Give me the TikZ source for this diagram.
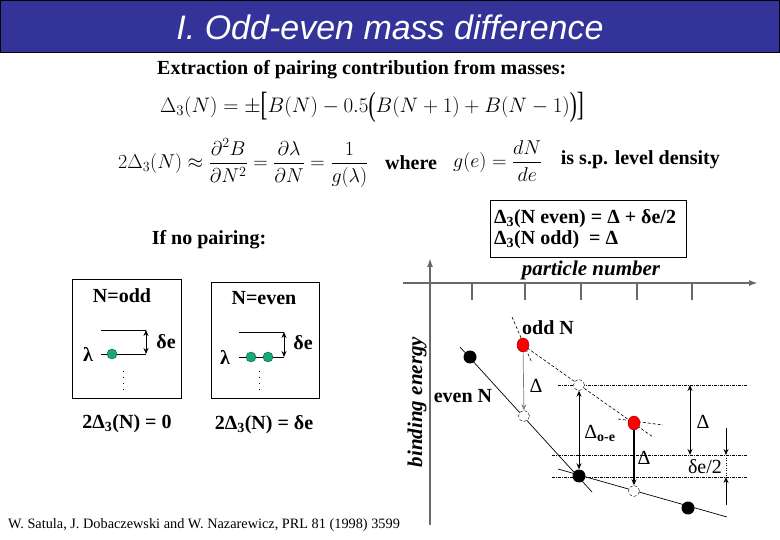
\documentclass[tikz,border=0pt]{standalone}
\usepackage{fix-cm}
\usepackage{amsmath}
\usepackage{graphicx}
\usepackage{fontspec}
\setmainfont{Liberation Serif}
\newfontfamily\headfont{Liberation Sans}
\usetikzlibrary{arrows.meta,shapes.geometric}
\definecolor{barblue}{RGB}{51,51,153}
\definecolor{dotgreen}{RGB}{20,170,120}
\definecolor{axisgray}{RGB}{105,105,105}
\newcommand{\tallbr}[1]{\hbox{\raisebox{-0.14em}{\scalebox{1}[1.6]{#1}}}}
\tikzset{
  bold/.style={font=\bfseries\fontsize{20}{22}\selectfont},
  plain/.style={font=\fontsize{20}{22}\selectfont},
  eq/.style={font=\fontsize{20}{24}\selectfont},
  axis/.style={draw=axisgray, line width=1.6pt, -{Latex[length=9pt,width=6pt]}},
  tickmark/.style={draw=axisgray, line width=1.4pt},
  evendot/.style={circle, fill=black, minimum size=13pt},
  odddot/.style={ellipse, fill=red, draw=red!55!black, minimum width=12pt, minimum height=14pt},
  ghost/.style={circle, draw, densely dashed, fill=white, minimum size=11pt},
  greendot/.style={circle, fill=dotgreen, draw=dotgreen!50!black, minimum size=10pt},
  guide/.style={line width=0.6pt, dash pattern=on 3pt off 1pt on 1pt off 1pt},
  dim/.style={{Stealth[length=6pt,width=5pt]}-{Stealth[length=6pt,width=5pt]}, line width=0.9pt},
  onearrow/.style={-{Stealth[length=6pt,width=5pt]}, line width=0.9pt}
}
\begin{document}
\begin{tikzpicture}[x=1pt,y=-1pt, every node/.style={inner sep=0pt}]
  \useasboundingbox (0,0) rectangle (780,540);
  \path[fill=barblue, draw=black, line width=1pt] (0.5,0.5) rectangle (779.5,53);
  \node[text=white, font=\headfont\itshape\fontsize{34}{37}\selectfont] (title) at (390,27) {I. Odd-even mass difference};

  \node[bold, anchor=west] (extract) at (157,70) {Extraction of pairing contribution from masses:};
  \node[eq, font=\fontsize{21}{25}\selectfont] (eqone) at (372,107) {$\Delta_3(N)=\pm\mathopen{\tallbr{[}}B(N)-0.5\mathopen{\tallbr{(}}B(N+1)+B(N-1)\mathclose{\tallbr{)}}\mathclose{\tallbr{]}}$};
  \node[eq, anchor=west] (eqtwo) at (118,163) {$2\Delta_3(N)\approx\dfrac{\partial^2 B}{\partial N^2}=\dfrac{\partial\lambda}{\partial N}=\dfrac{1}{g(\lambda)}$};
  \node[bold] (where) at (411,163) {where};
  \node[eq, anchor=west] (density) at (453,161) {$g(e)=\dfrac{dN}{de}$};
  \node[bold, anchor=east] (spdens) at (720,160) {is s.p. level density};

  \node[draw, line width=0.8pt, minimum width=196pt, minimum height=57pt] (gapbox) at (588,228.5) {};
  \node[bold, anchor=west] (gapeven) at (494,219) {Δ\textsubscript{3}(N even) = Δ + δe/2};
  \node[bold, anchor=west] (gapodd) at (494,240) {Δ\textsubscript{3}(N odd)\ \ = Δ};

  \node[bold] (nopair) at (209,240) {If no pairing:};

  \node[draw, line width=0.8pt, minimum width=109pt, minimum height=119pt] (oddbox) at (126.5,338.5) {};
  \node[bold] (oddtitle) at (122,296) {N=odd};
  \node[bold] (oddlam) at (88,354) {λ};
  \coordinate (oddtopL) at (101,330);
  \coordinate (oddtopR) at (146,330);
  \coordinate (oddlamL) at (101,354);
  \coordinate (oddlamR) at (146,354);
  \draw[line width=0.8pt] (oddtopL) -- (oddtopR);
  \draw[line width=0.8pt] (oddlamL) -- (oddlamR);
  \node[greendot] (oddp) at (112,354) {};
  \draw[dim] (oddtopR) -- (oddlamR);
  \node[bold] (oddde) at (166,342) {δe};
  \coordinate (oddvdA) at (123,371);
  \coordinate (oddvdB) at (123,390);
  \draw[line width=1pt, dash pattern=on 1pt off 5pt] (oddvdA) -- (oddvdB);
  \node[bold] (oddres) at (127,424) {2Δ\textsubscript{3}(N) = 0};

  \node[draw, line width=0.8pt, minimum width=108pt, minimum height=116pt] (evenbox) at (265,340) {};
  \node[bold] (eventitle) at (264,298) {N=even};
  \node[bold] (evenlam) at (225,357) {λ};
  \coordinate (eventopL) at (239,332);
  \coordinate (eventopR) at (284,332);
  \coordinate (evenlamL) at (239,357);
  \coordinate (evenlamR) at (284,357);
  \draw[line width=0.8pt] (eventopL) -- (eventopR);
  \draw[line width=0.8pt] (evenlamL) -- (evenlamR);
  \node[greendot] (evenpa) at (251,357) {};
  \node[greendot] (evenpb) at (268,357) {};
  \draw[dim] (eventopR) -- (evenlamR);
  \node[bold] (evende) at (303,343) {δe};
  \coordinate (evenvdA) at (259,371);
  \coordinate (evenvdB) at (259,390);
  \draw[line width=1pt, dash pattern=on 1pt off 5pt] (evenvdA) -- (evenvdB);
  \node[bold] (evenres) at (264,425) {2Δ\textsubscript{3}(N) = δe};

  \coordinate (yfoot) at (430,525);
  \coordinate (ytop) at (430,258);
  \coordinate (xfoot) at (403,283);
  \coordinate (xtop) at (758,283);
  \draw[axis] (yfoot) -- (ytop);
  \draw[axis] (xfoot) -- (xtop);
  \foreach \x in {472,525,581,637,692}
    \draw[tickmark] (\x,283) -- (\x,300);
  \node[font=\bfseries\itshape\fontsize{21}{24}\selectfont] (xlabel) at (591,270) {particle number};
  \node[font=\bfseries\itshape\fontsize{21}{24}\selectfont, rotate=90] (ylabel) at (417,402) {binding energy};

  \coordinate (evenA) at (460,347);
  \coordinate (evenB) at (592,492);
  \coordinate (evenC) at (558,469);
  \coordinate (evenD) at (727,517);
  \coordinate (oddA) at (523,345);
  \coordinate (oddB) at (653,437);
  \coordinate (oddC) at (512,317);
  \coordinate (oddD) at (532,363);
  \coordinate (oddE) at (618,419);
  \coordinate (oddF) at (663,425);
  \draw[line width=0.7pt] (evenA) -- (evenB);
  \draw[line width=0.7pt] (evenC) -- (evenD);
  \draw[line width=0.6pt, densely dashed] (oddA) -- (oddB);
  \draw[line width=0.6pt, densely dashed] (oddC) -- (oddD);
  \draw[line width=0.6pt, densely dashed] (oddE) -- (oddF);

  \coordinate (gtopL) at (558,385);
  \coordinate (gtopR) at (748,385);
  \coordinate (gmidL) at (552,455);
  \coordinate (gmidR) at (748,455);
  \coordinate (glowL) at (552,477);
  \coordinate (glowR) at (748,477);
  \draw[guide] (gtopL) -- (gtopR);
  \draw[guide] (gmidL) -- (gmidR);
  \draw[guide] (glowL) -- (glowR);

  \node[evendot] (even1) at (470,357) {};
  \node[ghost] (ghost1) at (524,416) {};
  \node[odddot] (odd1) at (523,345) {};
  \node[ghost] (ghost2) at (579,385) {};
  \node[evendot] (even2) at (579,476) {};
  \node[odddot] (odd2) at (634,423) {};
  \node[ghost] (ghost3) at (634,491) {};
  \node[evendot] (even3) at (688,508) {};

  \draw[onearrow, draw=gray, line width=0.7pt] (odd1) -- (ghost1);
  \draw[dim] (ghost2) -- (even2);
  \draw[onearrow, line width=1.8pt] (odd2) -- (ghost3);

  \coordinate (gapA) at (690,385);
  \coordinate (gapB) at (690,455);
  \draw[dim] (gapA) -- (gapB);
  \coordinate (deA) at (726,428);
  \coordinate (deB) at (726,455);
  \coordinate (deC) at (726,505);
  \coordinate (deD) at (726,477);
  \draw[onearrow] (deA) -- (deB);
  \draw[onearrow] (deC) -- (deD);
  \draw[line width=0.5pt, dotted] (deB) -- (deD);

  \node[bold] (oddlabel) at (548,328) {odd N};
  \node[bold] (evenlabel) at (463,396) {even N};
  \node[plain] (gaplabA) at (536,386) {Δ};
  \node[plain] (gaplabB) at (600,433) {Δ\textsubscript{\bfseries o-e}};
  \node[plain] (gaplabC) at (644,458) {Δ};
  \node[plain] (gaplabD) at (703,422) {Δ};
  \node[plain] (gaplabE) at (705,467) {δe/2};

  \node[font=\fontsize{14.3}{16}\selectfont, anchor=west] (cite) at (8,525) {W. Satula, J. Dobaczewski and W. Nazarewicz, PRL 81 (1998) 3599};
\end{tikzpicture}
\end{document}
